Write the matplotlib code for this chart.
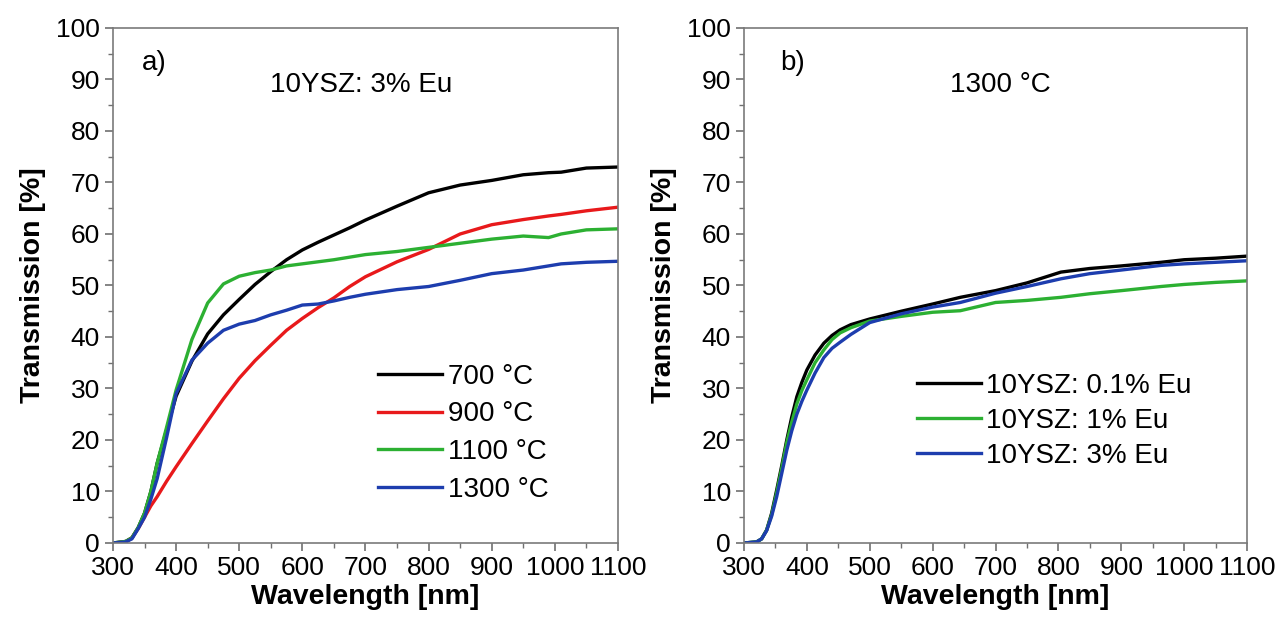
import numpy as np
import matplotlib.pyplot as plt
from matplotlib.ticker import MultipleLocator

plt.rcParams['font.family'] = ['Liberation Sans', 'DejaVu Sans']

# panel a) 10YSZ: 3% Eu at different temperatures
wl_a = [300, 320, 330, 340, 350, 360, 370, 385, 400, 425, 450, 475, 500, 525, 550,
        575, 600, 625, 650, 675, 700, 750, 800, 850, 900, 950, 990, 1010, 1050, 1100]
t700 = [0, 0.3, 1, 3, 5.8, 10, 15.5, 22, 28.5, 35.3, 40.6, 44.3, 47.3, 50.2, 52.7,
        55, 56.9, 58.4, 59.8, 61.2, 62.7, 65.4, 68, 69.5, 70.4, 71.5, 71.9, 72, 72.8, 73]
t900 = [0, 0.2, 1, 2.8, 5, 7.2, 9, 12, 14.8, 19.3, 23.7, 28, 32, 35.4, 38.4,
        41.3, 43.6, 45.7, 47.6, 49.8, 51.7, 54.6, 57, 60, 61.8, 62.8, 63.5, 63.8, 64.5, 65.2]
t1100 = [0, 0.3, 1, 3, 5.8, 10, 15.5, 22.5, 29.7, 39.5, 46.6, 50.3, 51.8, 52.5, 53,
         53.8, 54.2, 54.6, 55, 55.5, 56, 56.6, 57.4, 58.2, 59, 59.6, 59.3, 60, 60.8, 61]
t1300 = [0, 0.2, 0.8, 2.8, 5, 8.5, 12.5, 20.5, 29, 35.5, 38.8, 41.3, 42.5, 43.2, 44.3,
         45.2, 46.2, 46.4, 47, 47.7, 48.3, 49.2, 49.8, 51, 52.3, 53, 53.8, 54.2, 54.5, 54.7]

# panel b) 1300 C at different Eu content
wl_b = [300, 320, 328, 336, 344, 352, 360, 368, 376, 384, 392, 400, 413, 427, 440,
        453, 470, 500, 550, 600, 644, 700, 750, 804, 850, 900, 963, 1000, 1050, 1100]
eu01 = [0, 0.2, 0.8, 2.5, 5.8, 10.3, 15, 20, 24.5, 28.4, 31.2, 33.6, 36.5, 38.8, 40.3,
        41.4, 42.4, 43.5, 45, 46.4, 47.7, 49, 50.5, 52.6, 53.3, 53.8, 54.5, 55, 55.3, 55.7]
eu1 = [0, 0.2, 0.8, 2.5, 5.5, 9.8, 14.5, 19.5, 23.5, 27, 29.6, 31.7, 35, 37.5, 39.5,
       40.8, 41.8, 43.1, 44, 44.8, 45.1, 46.7, 47.1, 47.7, 48.4, 49, 49.8, 50.2, 50.6, 50.9]
eu3 = [0, 0.2, 0.8, 2.4, 5.2, 9, 13.5, 18, 21.8, 25, 27.5, 29.7, 33, 36, 37.8,
       39, 40.5, 42.8, 44.5, 45.8, 46.7, 48.5, 49.8, 51.3, 52.3, 53, 53.9, 54.2, 54.5, 54.8]

fig = plt.figure(figsize=(12.81, 6.19), dpi=100)
ax1 = fig.add_axes([0.0882, 0.1228, 0.3942, 0.832])
ax2 = fig.add_axes([0.5808, 0.1228, 0.3927, 0.832])

lw = 2.4
ax1.plot(wl_a, t700, color='black', lw=lw, label='700 °C')
ax1.plot(wl_a, t900, color='#e8191b', lw=lw, label='900 °C')
ax1.plot(wl_a, t1100, color='#2cb032', lw=lw, label='1100 °C')
ax1.plot(wl_a, t1300, color='#1d3dae', lw=lw, label='1300 °C')

ax2.plot(wl_b, eu01, color='black', lw=lw, label='10YSZ: 0.1% Eu')
ax2.plot(wl_b, eu1, color='#2cb032', lw=lw, label='10YSZ: 1% Eu')
ax2.plot(wl_b, eu3, color='#1d3dae', lw=lw, label='10YSZ: 3% Eu')

for ax in (ax1, ax2):
    ax.set_xlim(300, 1100)
    ax.set_ylim(0, 100)
    ax.xaxis.set_major_locator(MultipleLocator(100))
    ax.xaxis.set_minor_locator(MultipleLocator(50))
    ax.yaxis.set_major_locator(MultipleLocator(10))
    ax.yaxis.set_minor_locator(MultipleLocator(5))
    ax.tick_params(which='both', direction='out', top=False, right=False,
                   labelsize=19, color='#707070')
    ax.tick_params(which='major', length=6, width=1.2)
    ax.tick_params(which='minor', length=3.5, width=1)
    for s in ax.spines.values():
        s.set_color('#7a7a7a')
        s.set_linewidth(1.2)
    ax.set_xlabel('Wavelength [nm]', fontsize=20.5, fontweight='bold', labelpad=3)
    ax.set_ylabel('Transmission [%]', fontsize=20.5, fontweight='bold', labelpad=7)

ax1.text(0.057, 0.918, 'a)', transform=ax1.transAxes, fontsize=20, va='baseline')
ax1.text(0.491, 0.876, '10YSZ: 3% Eu', transform=ax1.transAxes, fontsize=20,
         va='baseline', ha='center')
ax2.text(0.072, 0.918, 'b)', transform=ax2.transAxes, fontsize=20, va='baseline')
ax2.text(0.509, 0.876, '1300 °C', transform=ax2.transAxes, fontsize=20,
         va='baseline', ha='center')

ax1.legend(loc='upper left', bbox_to_anchor=(0.525, 0.348), frameon=False,
           borderpad=0, borderaxespad=0, fontsize=20, handlelength=2.3,
           handletextpad=0.2, labelspacing=0.42)
ax2.legend(loc='upper left', bbox_to_anchor=(0.344, 0.331), frameon=False,
           borderpad=0, borderaxespad=0, fontsize=20, handlelength=2.3,
           handletextpad=0.2, labelspacing=0.33)

fig.savefig('out.png', dpi=100)
